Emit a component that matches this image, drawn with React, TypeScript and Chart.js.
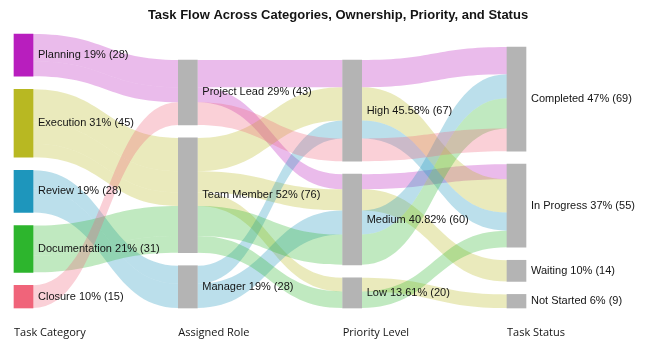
import React, { useEffect, useRef } from 'react';
import { Chart, registerables } from 'chart.js';

Chart.register(...registerables);

// ---- Data ----
const TITLE = 'Task Flow Across Categories, Ownership, Priority, and Status';
const COLUMN_TITLES = ['Task Category', 'Assigned Role', 'Priority Level', 'Task Status'];

const CATEGORIES = ['Planning', 'Execution', 'Review', 'Documentation', 'Closure'];
const ROLES = ['Project Lead', 'Team Member', 'Manager'];
const PRIORITIES = ['High', 'Medium', 'Low'];
const STATUSES = ['Completed', 'In Progress', 'Waiting', 'Not Started'];

// One entry per task path (category -> role -> priority -> status)
const FLOW_CATEGORY = ['Planning', 'Planning', 'Execution', 'Execution', 'Execution', 'Review', 'Review', 'Documentation', 'Documentation', 'Closure'];
const FLOW_ROLE = ['Project Lead', 'Project Lead', 'Team Member', 'Team Member', 'Team Member', 'Manager', 'Manager', 'Team Member', 'Team Member', 'Project Lead'];
const FLOW_PRIORITY = ['High', 'Medium', 'High', 'Medium', 'Low', 'High', 'Medium', 'Medium', 'Low', 'High'];
const FLOW_STATUS = ['Completed', 'In Progress', 'In Progress', 'Waiting', 'Not Started', 'In Progress', 'Completed', 'Completed', 'In Progress', 'Completed'];
const FLOW_COUNT = [18, 10, 22, 14, 9, 12, 16, 20, 11, 15];

const PCT_DECIMALS = [0, 0, 2, 0];

// ---- Styles ----
const CATEGORY_COLORS = ['#B81EBE', '#B8B822', '#1E96BC', '#2DB52D', '#F0647A'];
const NODE_GRAY = '#B4B4B4';
const LINK_ALPHA = 0.3;
const NODE_GAP = 8.6; // gap between nodes, in value units
const NODE_WIDTH = 19;
const LABEL_FONT = "11px 'Liberation Sans', Arial, sans-serif";
const TEXT_COLOR = '#141414';

function rgba(hex: string, a: number) {
  const n = parseInt(hex.slice(1), 16);
  return `rgba(${(n >> 16) & 255},${(n >> 8) & 255},${n & 255},${a})`;
}

export default function App() {
  const ref = useRef<HTMLCanvasElement>(null);

  useEffect(() => {
    document.body.style.margin = '0';
    document.body.style.overflow = 'hidden';
    const canvas = ref.current;
    if (!canvas) return;

    const columns = [CATEGORIES, ROLES, PRIORITIES, STATUSES];
    const flowCols = [FLOW_CATEGORY, FLOW_ROLE, FLOW_PRIORITY, FLOW_STATUS];
    const total = FLOW_COUNT.reduce((a, b) => a + b, 0);
    const maxNodes = Math.max(...columns.map((c) => c.length));
    const yMax = total + (maxNodes - 1) * NODE_GAP;

    type Node = { col: number; name: string; value: number; top: number; bottom: number; color: string };
    const nodes: Node[] = [];
    columns.forEach((names, c) => {
      let top = total + (names.length - 1) * NODE_GAP;
      names.forEach((name, i) => {
        const value = FLOW_COUNT.reduce((s, v, f) => (flowCols[c][f] === name ? s + v : s), 0);
        nodes.push({ col: c, name, value, top, bottom: top - value, color: c === 0 ? CATEGORY_COLORS[i] : NODE_GRAY });
        top = top - value - NODE_GAP;
      });
    });
    const nodeIndex = (c: number, name: string) => nodes.findIndex((n) => n.col === c && n.name === name);

    const sankeyPlugin = {
      id: 'sankeyLinks',
      beforeDatasetsDraw(chart: any) {
        const ctx = chart.ctx;
        const ys = chart.scales.y;
        const meta = chart.getDatasetMeta(0);
        const outOff = nodes.map(() => 0);
        const inOff = nodes.map(() => 0);
        ctx.save();
        for (let c = 0; c < columns.length - 1; c++) {
          FLOW_COUNT.forEach((v, f) => {
            const s = nodeIndex(c, flowCols[c][f]);
            const t = nodeIndex(c + 1, flowCols[c + 1][f]);
            const se = meta.data[s];
            const te = meta.data[t];
            const x0 = se.x + se.width / 2;
            const x1 = te.x - te.width / 2;
            const sTop = nodes[s].top - outOff[s];
            outOff[s] += v;
            const tTop = nodes[t].top - inOff[t];
            inOff[t] += v;
            const y0a = ys.getPixelForValue(sTop);
            const y0b = ys.getPixelForValue(sTop - v);
            const y1a = ys.getPixelForValue(tTop);
            const y1b = ys.getPixelForValue(tTop - v);
            const xm = (x0 + x1) / 2;
            ctx.beginPath();
            ctx.moveTo(x0, y0a);
            ctx.bezierCurveTo(xm, y0a, xm, y1a, x1, y1a);
            ctx.lineTo(x1, y1b);
            ctx.bezierCurveTo(xm, y1b, xm, y0b, x0, y0b);
            ctx.closePath();
            const color = CATEGORY_COLORS[CATEGORIES.indexOf(FLOW_CATEGORY[f])];
            ctx.fillStyle = rgba(color, LINK_ALPHA);
            ctx.fill();
          });
        }
        ctx.restore();
      },
      afterDatasetsDraw(chart: any) {
        const ctx = chart.ctx;
        const meta = chart.getDatasetMeta(0);
        ctx.save();
        ctx.font = LABEL_FONT;
        ctx.fillStyle = TEXT_COLOR;
        ctx.textAlign = 'left';
        ctx.textBaseline = 'middle';
        nodes.forEach((n, i) => {
          const el = meta.data[i];
          const pct = ((n.value / total) * 100).toFixed(PCT_DECIMALS[n.col]);
          const yMid = (el.y + el.base) / 2;
          ctx.fillText(`${n.name} ${pct}% (${n.value})`, el.x + el.width / 2 + 5, yMid);
        });
        ctx.restore();
      },
    };

    // x layout: chart area 30..646, node centers at 23.5 + k*164.33
    const padL = 30;
    const padR = 4;
    const spacing = 164.33;
    const firstCenter = 23.5;
    const areaW = 650 - padL - padR;
    const xMin = (padL - firstCenter) / spacing;
    const xMax = xMin + areaW / spacing;

    const chart = new Chart(canvas, {
      type: 'bar',
      data: {
        datasets: [
          {
            data: nodes.map((n) => ({ x: n.col, y: [n.bottom, n.top] })) as any,
            backgroundColor: nodes.map((n) => n.color),
            borderWidth: 0,
            barThickness: NODE_WIDTH,
            clip: false as any,
          },
        ],
      },
      options: {
        animation: false,
        responsive: false,
        events: [],
        layout: { padding: { left: padL, right: padR, top: 0, bottom: 2 } },
        plugins: {
          legend: { display: false },
          tooltip: { enabled: false },
          title: {
            display: true,
            text: TITLE,
            color: TEXT_COLOR,
            font: { family: "'Liberation Sans', Arial, sans-serif", size: 13, weight: 'bold' },
            padding: { top: 8, bottom: 10.4 },
          },
        },
        scales: {
          x: {
            type: 'linear',
            min: xMin,
            max: xMax,
            offset: false,
            grid: { display: false, drawTicks: false, offset: false },
            border: { display: false },
            afterBuildTicks: (scale: any) => {
              scale.ticks = COLUMN_TITLES.map((_, i) => ({ value: i }));
            },
            afterFit: (scale: any) => {
              scale.paddingLeft = 0;
              scale.paddingRight = 0;
            },
            ticks: {
              align: 'start',
              labelOffset: -NODE_WIDTH / 2,
              padding: 18.4,
              autoSkip: false,
              maxRotation: 0,
              color: TEXT_COLOR,
              font: { family: "'Open Sans', sans-serif", size: 11 },
              callback: (v: any) => COLUMN_TITLES[Math.round(Number(v))] ?? '',
            },
          },
          y: { display: false, min: 0, max: yMax },
        },
      } as any,
      plugins: [sankeyPlugin],
    });

    return () => chart.destroy();
  }, []);

  return (
    <div style={{ width: 650, height: 360, position: 'relative' }}>
      <canvas ref={ref} width={650} height={360} style={{ display: 'block' }} />
    </div>
  );
}
